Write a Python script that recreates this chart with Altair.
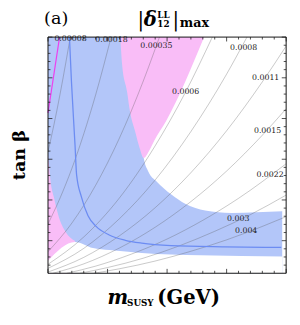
import altair as alt
import pandas as pd

W, H = 244, 242

# ---- contour lines of |delta_12^LL|max : (m_SUSY, tan beta)
c00008_m = [500, 550, 600, 650, 687]
c00008_t = [31.8, 38.5, 45.8, 53.8, 60.0]
c00018_m = [500, 600, 700, 800, 900, 1030]
c00018_t = [14.1, 20.4, 27.7, 36.2, 45.8, 60.0]
c00035_m = [500, 700, 900, 1100, 1300, 1436]
c00035_t = [7.3, 14.3, 23.6, 35.2, 49.2, 60.0]
c0006_m = [500, 800, 1100, 1400, 1650, 1880]
c0006_t = [4.2, 10.9, 20.5, 33.3, 46.2, 60.0]
c0008_m = [500, 800, 1100, 1400, 1700, 2000, 2171]
c0008_t = [3.2, 8.1, 15.4, 24.9, 36.8, 50.9, 60.0]
c0011_m = [500, 800, 1100, 1400, 1700, 2000, 2300, 2500]
c0011_t = [2.3, 5.9, 11.2, 18.1, 26.7, 37.0, 49.0, 57.8]
c0015_m = [543, 800, 1100, 1400, 1700, 2000, 2300, 2500]
c0015_t = [2.0, 4.3, 8.2, 13.3, 19.6, 27.1, 35.9, 42.4]
c0022_m = [657, 900, 1200, 1500, 1800, 2100, 2500]
c0022_t = [2.0, 3.75, 6.7, 10.4, 15.0, 20.4, 28.9]
c003_m = [768, 1000, 1300, 1600, 1900, 2200, 2500]
c003_t = [2.0, 3.4, 5.7, 8.7, 12.3, 16.4, 21.2]
c004_m = [886, 1100, 1400, 1700, 2000, 2300, 2500]
c004_t = [2.0, 3.1, 5.0, 7.4, 10.2, 13.5, 15.9]

lab_text = ["0.00008", "0.00018", "0.00035", "0.0006", "0.0008",
            "0.0011", "0.0015", "0.0022", "0.003", "0.004"]
lab_m = [689, 1033, 1410, 1656, 2143, 2328, 2344, 2365, 2098, 2164]
lab_t = [59.5, 59.3, 57.8, 46.6, 57.4, 50.0, 37.0, 26.0, 15.4, 12.3]

# ---- shaded regions (boundaries)
blue_top_m = [500, 1303, 1304, 1342, 1410, 1533, 1656, 1820, 2039, 2467]
blue_top_t = [60, 60, 30.3, 27.0, 24.6, 21.4, 19.0, 17.4, 16.8, 17.2]
low_m = [500, 727, 877, 1014, 1287, 1533, 1779, 2467]
low_t = [5.1, 9.7, 8.2, 7.7, 7.0, 6.6, 6.4, 6.1]
pinkL_m = [500, 508, 522, 549, 590, 645, 727]
pinkL_t = [31.0, 28.5, 24.5, 20.7, 15.9, 12.3, 9.9]
pinkT_m = [1107, 1123, 1164, 1188, 1230, 1270, 1303, 1352, 1393, 1492, 1811]
pinkT_t = [60, 53.0, 46.6, 41.8, 37.0, 32.7, 30.3, 32.2, 34.6, 39.4, 60]

# ---- blue and magenta curves
bl_m = [680, 697, 727, 740, 781, 836, 904, 1014, 1150, 1287, 1533, 1984, 2459]
bl_t = [60, 49, 33.4, 26.2, 20.7, 16.1, 13.5, 11.4, 10.1, 9.4, 8.8, 8.5, 8.35]
mg_m = [500, 597]
mg_t = [41.4, 60]

# ---- ticks
x_major = [500, 1000, 1500, 2000, 2500]
x_minor = [v for v in range(600, 2500, 100) if v % 500]
y_major = [10, 20, 30, 40, 50, 60]
y_minor = [v for v in range(4, 60, 2) if v % 10]

BLUE_FILL = "#b3c6f9"
PINK_FILL = "#f9bdf7"
BLUE_LINE = "#6c8cf2"
MAG_LINE = "#ee3fee"
SERIF = "DejaVu Serif"

xs = alt.Scale(domain=[500, 2500], nice=False, zero=False)
ys = alt.Scale(domain=[2, 60], nice=False, zero=False)


def xq(axis=None):
    return alt.X("m:Q", scale=xs, axis=axis)


def yq(axis=None):
    return alt.Y("t:Q", scale=ys, axis=axis, stack=None)


contours = []
for name, ms, ts in [("a", c00008_m, c00008_t), ("b", c00018_m, c00018_t),
                     ("c", c00035_m, c00035_t), ("d", c0006_m, c0006_t),
                     ("e", c0008_m, c0008_t), ("f", c0011_m, c0011_t),
                     ("g", c0015_m, c0015_t), ("h", c0022_m, c0022_t),
                     ("i", c003_m, c003_t), ("j", c004_m, c004_t)]:
    for m, t in zip(ms, ts):
        contours.append({"lvl": name, "m": m, "t": t})
df_c = pd.DataFrame(contours)

xaxis = alt.Axis(values=x_major, format="d", labelFont=SERIF, labelFontSize=8,
                 labelColor="#333", ticks=False, tickSize=0, domain=False,
                 grid=False, labelPadding=8, title=None)
yaxis = alt.Axis(values=y_major, format="d", labelFont=SERIF, labelFontSize=8,
                 labelColor="#333", ticks=False, tickSize=0, domain=False,
                 grid=False, labelPadding=8, title=None)

blue_top = alt.Chart(pd.DataFrame({"m": blue_top_m, "t": blue_top_t})).mark_area(
    color=BLUE_FILL, interpolate="monotone", opacity=1).encode(
    x=xq(xaxis), y=yq(yaxis), y2=alt.datum(2))
pink_left = alt.Chart(pd.DataFrame({"m": pinkL_m, "t": pinkL_t})).mark_area(
    color=PINK_FILL, interpolate="monotone", opacity=1).encode(
    x=xq(), y=yq(), y2=alt.datum(2))
white_low = alt.Chart(pd.DataFrame({"m": low_m, "t": low_t})).mark_area(
    color="white", interpolate="monotone", opacity=1).encode(
    x=xq(), y=yq(), y2=alt.datum(2))
pink_top = alt.Chart(pd.DataFrame({"m": pinkT_m, "t": pinkT_t})).mark_area(
    color=PINK_FILL, interpolate="monotone", opacity=1).encode(
    x=xq(), y=yq(), y2=alt.datum(60))

gray = alt.Chart(df_c).mark_line(color="#555555", strokeWidth=0.8, opacity=0.4,
                                 interpolate="monotone", clip=True).encode(
    x=xq(), y=yq(), detail="lvl:N")
mag = alt.Chart(pd.DataFrame({"m": mg_m, "t": mg_t})).mark_line(
    color=MAG_LINE, strokeWidth=1.2).encode(x=xq(), y=yq())
blue_line = alt.Chart(pd.DataFrame({"m": bl_m, "t": bl_t})).mark_line(
    color=BLUE_LINE, strokeWidth=1.3, interpolate="monotone").encode(x=xq(), y=yq())

labels = alt.Chart(pd.DataFrame({"m": lab_m, "t": lab_t, "txt": lab_text})).mark_text(
    font=SERIF, fontSize=8, color="#222", align="center", baseline="middle").encode(
    x=xq(), y=yq(), text="txt:N")

tick_layers = []
for vals, ln in [(x_major, 4.5), (x_minor, 2.5)]:
    d = pd.DataFrame({"m": vals})
    tick_layers.append(alt.Chart(d).mark_rule(color="#222", strokeWidth=0.8).encode(
        x=xq(), y=alt.value(H), y2=alt.value(H - ln)))
    tick_layers.append(alt.Chart(d).mark_rule(color="#222", strokeWidth=0.8).encode(
        x=xq(), y=alt.value(0), y2=alt.value(ln)))
for vals, ln in [(y_major, 4.5), (y_minor, 2.5)]:
    d = pd.DataFrame({"t": vals})
    tick_layers.append(alt.Chart(d).mark_rule(color="#222", strokeWidth=0.8).encode(
        y=yq(), x=alt.value(0), x2=alt.value(ln)))
    tick_layers.append(alt.Chart(d).mark_rule(color="#222", strokeWidth=0.8).encode(
        y=yq(), x=alt.value(W), x2=alt.value(W - ln)))

one = alt.Data(values=[{"k": 1}])
frame = [
    alt.Chart(one).mark_rule(color="#111", strokeWidth=1).encode(
        x=alt.value(0), y=alt.value(0), y2=alt.value(H)),
    alt.Chart(one).mark_rule(color="#111", strokeWidth=1).encode(
        x=alt.value(W), y=alt.value(0), y2=alt.value(H)),
    alt.Chart(one).mark_rule(color="#111", strokeWidth=1).encode(
        y=alt.value(0), x=alt.value(0), x2=alt.value(W)),
    alt.Chart(one).mark_rule(color="#111", strokeWidth=1).encode(
        y=alt.value(H), x=alt.value(0), x2=alt.value(W)),
]


def txt(s, x, y, size, weight="normal", style="normal", align="left", angle=0,
        baseline="alphabetic"):
    return alt.Chart(one).mark_text(text=s, font=SERIF, fontSize=size, fontWeight=weight,
                                    fontStyle=style, align=align, angle=angle,
                                    baseline=baseline, color="black").encode(
        x=alt.value(x), y=alt.value(y))


titles = [
    txt("(a)", -4, -13, 18),
    txt("|", 95, -11, 20, align="center"),
    txt("δ", 98, -11, 20, weight="bold", style="italic"),
    txt("LL", 112, -20, 9, weight="bold"),
    txt("12", 112, -10, 9, weight="bold"),
    txt("|", 131, -11, 20, align="center"),
    txt("max", 135, -10, 13, weight="bold"),
    txt("m", 61, 273, 20, weight="bold", style="italic"),
    txt("SUSY", 81, 276, 9, weight="bold"),
    txt("(GeV)", 112, 273, 20, weight="bold"),
    txt("tan β", -29, 121, 18, weight="bold", align="center", angle=270,
        baseline="middle"),
]

chart = alt.layer(blue_top, pink_left, white_low, pink_top, gray, mag, blue_line,
                  labels, *tick_layers, *frame, *titles).properties(
    width=W, height=H,
    autosize=alt.AutoSizeParams(type="none"),
    padding={"left": 41, "top": 26, "right": 6, "bottom": 40},
).configure_view(stroke=None)

chart.save("out.html", embed_options={"renderer": "svg", "actions": False})
